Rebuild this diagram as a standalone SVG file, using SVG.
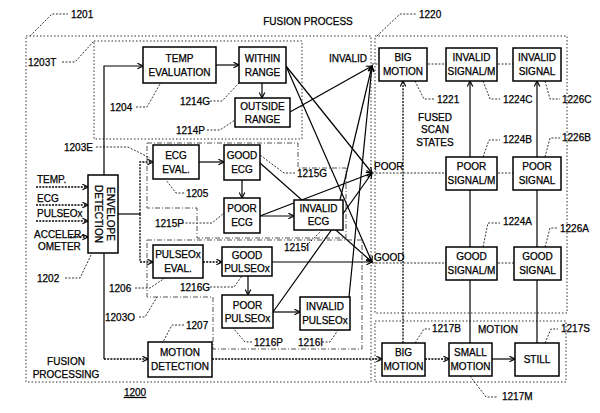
<svg xmlns="http://www.w3.org/2000/svg" width="600" height="413" viewBox="0 0 600 413">
<defs>
<marker id="ah" viewBox="0 0 10 10" refX="9" refY="5" markerWidth="7" markerHeight="7" orient="auto-start-reverse" markerUnits="userSpaceOnUse"><path d="M1,1 L9,5 L1,9" fill="none" stroke="#000" stroke-width="1.6"/></marker>
<style>
text{font-family:"Liberation Sans",Arial,sans-serif;font-size:10px;fill:#000;stroke:#000;stroke-width:0.25}
.c{text-anchor:middle}
.box{fill:#fff;stroke:#000;stroke-width:1.5}
.ln{fill:none;stroke:#000;stroke-width:1.2}
.dl{fill:none;stroke:#000;stroke-width:1.3;stroke-dasharray:2 1.2}
.ld{fill:none;stroke:#000;stroke-width:0.8;stroke-dasharray:2 1.5}
.reg{fill:none;stroke:#333;stroke-width:1;stroke-dasharray:1.5 2}
.rgd{fill:none;stroke:#555;stroke-width:1;stroke-dasharray:5 2 1 2}
</style>
</defs>
<rect width="600" height="413" fill="#fff"/>
<g id="regions">
<rect class="reg" x="26" y="36" width="345" height="346"/>
<rect class="reg" x="375" y="36" width="192" height="277"/>
<rect class="reg" x="375" y="321" width="191" height="61"/>
<rect class="reg" x="94" y="41" width="208" height="98"/>
<path class="rgd" d="M147,143 H298 V168 H346 V238 H197 V208 H147 Z"/>
<path class="rgd" d="M147,240 H362 V349 H213 V297 H147 Z"/>
</g>
<g id="labels">
<text x="308" y="25" class="c">FUSION PROCESS</text>
<text x="71" y="18">1201</text><path class="ld" d="M30,36 L52,14 H68"/>
<text x="419" y="18">1220</text><path class="ld" d="M377,36 L400,14 H416"/>
<text x="28" y="66">1203T</text><path class="ld" d="M62,62 H75 L94,41"/>
<text x="110" y="111">1204</text><path class="ld" d="M136,107 H147 L160,84"/>
<text x="180" y="105">1214G</text><path class="ld" d="M210,101 H222 L239,83"/>
<text x="176" y="134">1214P</text><path class="ld" d="M207,130 H220 L235,120"/>
<text x="64" y="151">1203E</text><path class="ld" d="M96,147 H128 L150,158"/>
<text x="186" y="197">1205</text><path class="ld" d="M184,193 H176 L166,180"/>
<text x="297" y="177">1215G</text><path class="ld" d="M295,173 H284 L260,155"/>
<text x="155" y="227">1215P</text><path class="ld" d="M182,223 H212 L224,213"/>
<text x="284" y="251">1215I</text><path class="ld" d="M306,246 L322,230"/>
<text x="37" y="282">1202</text><path class="ld" d="M65,278 H80 L92,253"/>
<text x="109" y="292">1206</text><path class="ld" d="M135,288 H150 L165,278"/>
<text x="180" y="291">1216G</text><path class="ld" d="M210,287 H234 L242,276"/>
<text x="105" y="321">1203O</text><path class="ld" d="M139,317 H145 L157,297"/>
<text x="186" y="329">1207</text><path class="ld" d="M184,325 H172 L163,342"/>
<text x="254" y="346">1216P</text><path class="ld" d="M252,342 H245 L233,328"/>
<text x="298" y="346">1216I</text><path class="ld" d="M322,342 H330 L338,330"/>
<text x="66" y="365" class="c">FUSION</text>
<text x="66" y="378" class="c">PROCESSING</text>
<text x="135" y="396" class="c" style="text-decoration:underline">1200</text>
<text x="37" y="183">TEMP.</text>
<text x="37" y="202">ECG</text>
<text x="37" y="217">PULSEOx</text>
<text x="34" y="238">ACCELER-</text>
<text x="38" y="250">OMETER</text>
<text x="348" y="62" class="c">INVALID</text>
<text x="374" y="170">POOR</text>
<text x="374" y="261">GOOD</text>
<text x="435" y="121" class="c">FUSED</text>
<text x="435" y="133" class="c">SCAN</text>
<text x="435" y="146" class="c">STATES</text>
<text x="437" y="103">1221</text><path class="ld" d="M415,81 L424,99 H434"/>
<text x="503" y="103">1224C</text><path class="ld" d="M483,81 L490,99 H500"/>
<text x="562" y="103">1226C</text><path class="ld" d="M545,81 L550,99 H560"/>
<text x="503" y="143">1224B</text><path class="ld" d="M483,157 L489,140 H500"/>
<text x="562" y="141">1226B</text><path class="ld" d="M545,157 L550,138 H560"/>
<text x="503" y="225">1224A</text><path class="ld" d="M483,247 L488,223 H500"/>
<text x="560" y="232">1226A</text><path class="ld" d="M545,247 L550,228 H558"/>
<text x="498" y="333" class="c">MOTION</text>
<text x="432" y="332">1217B</text><path class="ld" d="M415,343 L424,329 H430"/>
<text x="561" y="332">1217S</text><path class="ld" d="M545,343 L551,329 H558"/>
<text x="502" y="400">1217M</text><path class="ld" d="M470,376 L486,397 H498"/>
</g>
<g id="connectors">
<path class="dl" d="M36,187 H88" marker-end="url(#ah)"/>
<path class="dl" d="M36,205 H88" marker-end="url(#ah)"/>
<path class="dl" d="M36,221 H88" marker-end="url(#ah)"/>
<path class="dl" d="M70,237 H88" marker-end="url(#ah)"/>
<path class="ln" d="M104,359 V66 H143" marker-end="url(#ah)"/>
<path class="dl" d="M104,359 H148" marker-end="url(#ah)"/>
<path class="ln" d="M118,214 H140"/>
<path class="dl" d="M140,214 V162 H153" marker-end="url(#ah)"/>
<path class="dl" d="M140,214 V262 H153" marker-end="url(#ah)"/>
<path class="ln" d="M216,65 H239" marker-end="url(#ah)"/>
<path class="ln" d="M262,83 V98" marker-end="url(#ah)"/>
<path class="ln" d="M199,162 H224" marker-end="url(#ah)"/>
<path class="ln" d="M242,180 V198" marker-end="url(#ah)"/>
<path class="ln" d="M260,216 H294" marker-end="url(#ah)"/>
<path class="dl" d="M203,262 H222" marker-end="url(#ah)"/>
<path class="ln" d="M248,276 V295" marker-end="url(#ah)"/>
<path class="ln" d="M273,312 H300" marker-end="url(#ah)"/>
<path class="dl" d="M212,359 H382" marker-end="url(#ah)"/>
<path class="dl" d="M425,359 H449" marker-end="url(#ah)"/>
<path class="ln" d="M492,359 H515" stroke-width="1.8" marker-end="url(#ah)"/>
<path class="ln" d="M290,112 L372,66" marker-end="url(#ah)"/>
<path class="ln" d="M340,200 L372,66" marker-end="url(#ah)"/>
<path class="ln" d="M349,297 L372,66" marker-end="url(#ah)"/>
<path class="ln" d="M286,66 L372,173" marker-end="url(#ah)"/>
<path class="ln" d="M260,216 L372,173" marker-end="url(#ah)"/>
<path class="ln" d="M273,312 L372,173" marker-end="url(#ah)"/>
<path class="ln" d="M286,66 L372,262" marker-end="url(#ah)"/>
<path class="ln" d="M260,163 L372,262" marker-end="url(#ah)"/>
<path class="ln" d="M272,262 H372" marker-end="url(#ah)"/>
<path class="dl" d="M403,343 V81" marker-end="url(#ah)"/>
<path class="ln" d="M470,343 V81" marker-end="url(#ah)"/>
<path class="ln" d="M537,343 V81" marker-end="url(#ah)"/>
<path class="ld" d="M372,64 H513"/>
<path class="ld" d="M372,173 H513"/>
<path class="ld" d="M372,263 H514"/>
</g>
<g id="temp-eval"><rect class="box" x="143" y="47" width="73" height="36"/><text x="179.5" y="62" class="c">TEMP</text><text x="179.5" y="76" class="c">EVALUATION</text></g>
<g id="within-range"><rect class="box" x="239" y="47" width="47" height="36"/><text x="262.5" y="62" class="c">WITHIN</text><text x="262.5" y="76" class="c">RANGE</text></g>
<g id="outside-range"><rect class="box" x="235" y="98" width="55" height="29"/><text x="262.5" y="110" class="c">OUTSIDE</text><text x="262.5" y="123" class="c">RANGE</text></g>
<g id="envelope"><rect class="box" x="88" y="175" width="30" height="78"/><g transform="translate(103,214) rotate(90)"><text x="0" y="-3.5" class="c">ENVELOPE</text><text x="0" y="8.5" class="c">DETECTION</text></g></g>
<g id="ecg-eval"><rect class="box" x="153" y="145" width="46" height="34"/><text x="176" y="159" class="c">ECG</text><text x="176" y="173" class="c">EVAL.</text></g>
<g id="good-ecg"><rect class="box" x="224" y="145" width="36" height="35"/><text x="242" y="159" class="c">GOOD</text><text x="242" y="173" class="c">ECG</text></g>
<g id="poor-ecg"><rect class="box" x="224" y="198" width="36" height="35"/><text x="242" y="212" class="c">POOR</text><text x="242" y="226" class="c">ECG</text></g>
<g id="invalid-ecg"><rect class="box" x="294" y="200" width="49" height="30"/><text x="318.5" y="212" class="c">INVALID</text><text x="318.5" y="225" class="c">ECG</text></g>
<g id="pulseox-eval"><rect class="box" x="153" y="245" width="50" height="33"/><text x="178" y="258" class="c">PULSEOx</text><text x="178" y="272" class="c">EVAL.</text></g>
<g id="good-pulseox"><rect class="box" x="222" y="247" width="50" height="29"/><text x="247" y="259" class="c">GOOD</text><text x="247" y="272" class="c">PULSEOx</text></g>
<g id="poor-pulseox"><rect class="box" x="222" y="295" width="51" height="33"/><text x="247.5" y="309" class="c">POOR</text><text x="247.5" y="322" class="c">PULSEOx</text></g>
<g id="invalid-pulseox"><rect class="box" x="300" y="297" width="50" height="33"/><text x="325" y="310" class="c">INVALID</text><text x="325" y="324" class="c">PULSEOx</text></g>
<g id="motion-detection"><rect class="box" x="148" y="342" width="64" height="35"/><text x="180" y="356" class="c">MOTION</text><text x="180" y="370" class="c">DETECTION</text></g>
<g id="big-motion-state"><rect class="box" x="379" y="48" width="48" height="33"/><text x="403" y="61" class="c">BIG</text><text x="403" y="75" class="c">MOTION</text></g>
<g id="invalid-signal-m"><rect class="box" x="446" y="48" width="51" height="33"/><text x="471.5" y="61" class="c">INVALID</text><text x="471.5" y="75" class="c">SIGNAL/M</text></g>
<g id="invalid-signal"><rect class="box" x="513" y="48" width="48" height="33"/><text x="537" y="61" class="c">INVALID</text><text x="537" y="75" class="c">SIGNAL</text></g>
<g id="poor-signal-m"><rect class="box" x="446" y="157" width="51" height="33"/><text x="471.5" y="170" class="c">POOR</text><text x="471.5" y="184" class="c">SIGNAL/M</text></g>
<g id="poor-signal"><rect class="box" x="513" y="157" width="48" height="33"/><text x="537" y="170" class="c">POOR</text><text x="537" y="184" class="c">SIGNAL</text></g>
<g id="good-signal-m"><rect class="box" x="446" y="247" width="51" height="33"/><text x="471.5" y="260" class="c">GOOD</text><text x="471.5" y="274" class="c">SIGNAL/M</text></g>
<g id="good-signal"><rect class="box" x="514" y="247" width="47" height="33"/><text x="537.5" y="260" class="c">GOOD</text><text x="537.5" y="274" class="c">SIGNAL</text></g>
<g id="big-motion"><rect class="box" x="382" y="343" width="43" height="33"/><text x="403.5" y="356" class="c">BIG</text><text x="403.5" y="370" class="c">MOTION</text></g>
<g id="small-motion"><rect class="box" x="449" y="343" width="43" height="33"/><text x="470.5" y="356" class="c">SMALL</text><text x="470.5" y="370" class="c">MOTION</text></g>
<g id="still"><rect class="box" x="515" y="343" width="44" height="33"/><text x="537" y="363" class="c">STILL</text></g>
</svg>
